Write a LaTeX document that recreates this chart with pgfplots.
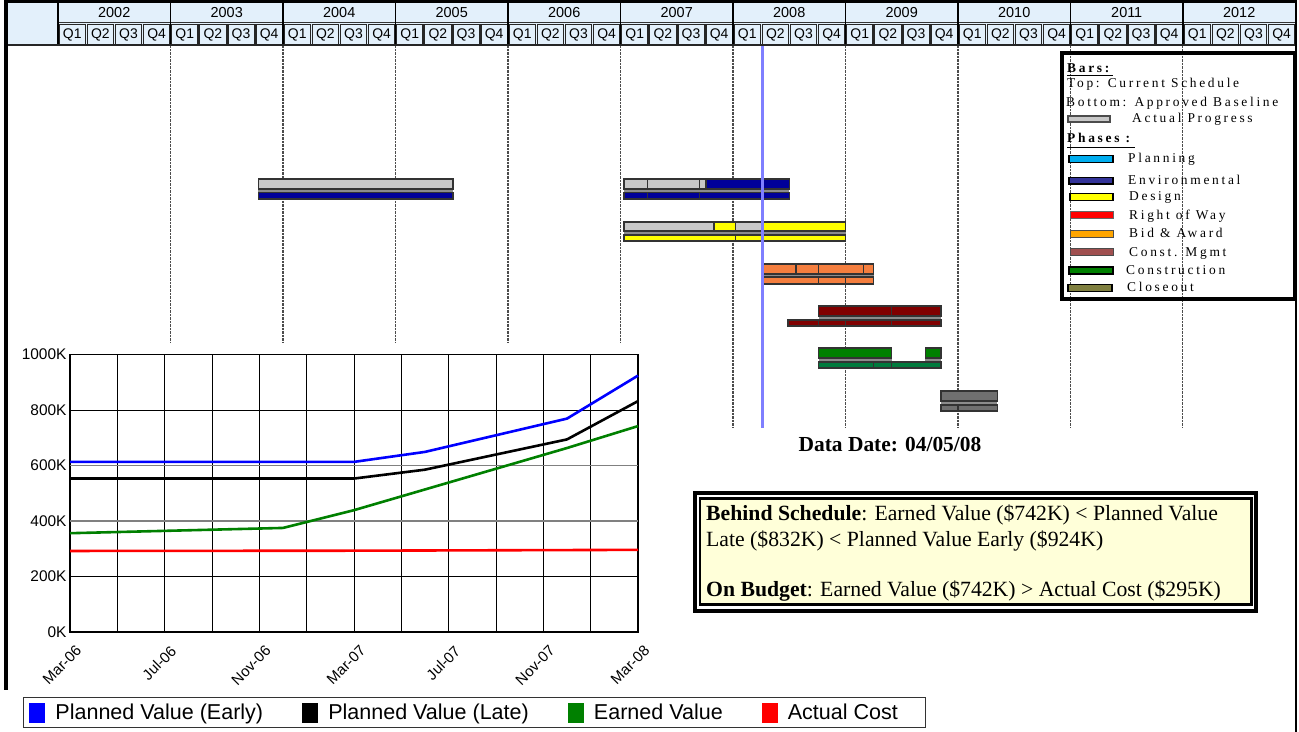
\documentclass[border=0pt]{standalone}
\usepackage{fontspec}
\usepackage{pgfplots}
\pgfplotsset{compat=1.18}
\setmainfont{Liberation Serif}
\newfontfamily\arial{Liberation Sans}
\newfontfamily\spaced[LetterSpace=20]{Liberation Serif}

\definecolor{hdr}{HTML}{E3F0FB}
\definecolor{navy}{HTML}{000099}
\definecolor{prog}{HTML}{C8C8C8}
\definecolor{ylw}{HTML}{FFFF00}
\definecolor{bid}{HTML}{F47E3E}
\definecolor{cm}{HTML}{800000}
\definecolor{cons}{HTML}{008000}
\definecolor{consb}{HTML}{007A3D}
\definecolor{closeb}{HTML}{707070}
\definecolor{boxy}{HTML}{FFFFD9}
\definecolor{lgenv}{HTML}{333399}
\definecolor{lgbid}{HTML}{FFA500}
\definecolor{lgcm}{HTML}{A05050}
\definecolor{lgclose}{HTML}{808040}
\definecolor{datel}{HTML}{7F7FFF}

% bar segment: x1 x2 y1 y2 colour
\newcommand\gb[5]{\addplot[fill=#5,draw=black!80,line width=1.5bp] coordinates {(#1,#3) (#2,#3) (#2,#4) (#1,#4)} -- cycle;}
% shadow strip under a current-schedule bar
\newcommand\gs[4]{\addplot[fill=black!45,draw=none] coordinates {(#1,#3) (#2,#3) (#2,#4) (#1,#4)} -- cycle;}

\begin{document}
\begin{tikzpicture}[x=1bp,y=1bp]
\path[use as bounding box] (0bp,0bp) rectangle (1299bp,732bp);

% ---------------- Gantt ----------------
\begin{axis}[at={(58bp,304bp)}, anchor=south west, scale only axis,
  width=1237.5bp, height=382bp,
  xmin=2002, xmax=2013, ymin=46, ymax=428, y dir=reverse,
  axis line style={draw=none}, xtick={2003,...,2012}, ytick=\empty,
  xticklabels={}, major tick length=0pt, xmajorgrids,
  grid style={black!70, densely dotted, line width=1.2bp}, clip=false]
% Environmental (first)
\gs{2003.78}{2005.51}{188}{192.5}
\gb{2003.78}{2005.51}{179}{189}{prog}
\gb{2003.78}{2005.51}{192.5}{199}{navy}
% Environmental (second)
\gs{2007.03}{2008.50}{188}{192.5}
\gb{2007.03}{2007.24}{179}{189}{prog}
\gb{2007.24}{2007.70}{179}{189}{prog}
\gb{2007.70}{2007.76}{179}{189}{prog}
\gb{2007.76}{2008.50}{179}{189}{navy}
\gb{2007.03}{2007.24}{192.5}{199}{navy}
\gb{2007.24}{2007.70}{192.5}{199}{navy}
\gb{2007.70}{2008.50}{192.5}{199}{navy}
% Design
\gs{2007.03}{2009.00}{230}{235}
\gb{2007.03}{2007.83}{222}{231}{prog}
\gb{2007.83}{2008.02}{222}{231}{ylw}
\gb{2008.02}{2008.26}{222}{231}{prog}
\gb{2008.26}{2009.00}{222}{231}{ylw}
\gb{2008.02}{2009.00}{235}{241}{ylw}
\gb{2007.03}{2008.02}{235}{241}{ylw}
% Bid & Award
\gs{2008.26}{2009.25}{273}{277}
\gb{2008.26}{2008.56}{264}{274}{bid}
\gb{2008.56}{2008.76}{264}{274}{bid}
\gb{2008.76}{2009.16}{264}{274}{bid}
\gb{2009.16}{2009.25}{264}{274}{bid}
\gb{2008.26}{2008.76}{277}{284}{bid}
\gb{2008.76}{2009.00}{277}{284}{bid}
\gb{2009.00}{2009.25}{277}{284}{bid}
% Const. Mgmt
\gs{2008.76}{2009.85}{315}{320}
\gb{2008.76}{2009.41}{306}{316}{cm}
\gb{2009.41}{2009.85}{306}{316}{cm}
\gb{2008.49}{2008.76}{320}{326}{cm}
\gb{2008.76}{2009.00}{320}{326}{cm}
\gb{2009.00}{2009.41}{320}{326}{cm}
\gb{2009.41}{2009.85}{320}{326}{cm}
% Construction
\gs{2008.76}{2009.41}{357}{361}
\gs{2009.71}{2009.85}{357}{361}
\gb{2008.76}{2009.41}{348}{358}{cons}
\gb{2009.71}{2009.85}{348}{358}{cons}
\gb{2008.76}{2009.25}{362}{368}{consb}
\gb{2009.25}{2009.41}{362}{368}{consb}
\gb{2009.41}{2009.85}{362}{368}{consb}
% Closeout
\gs{2009.85}{2010.35}{400}{405}
\gb{2009.85}{2010.35}{391}{401}{closeb}
\gb{2009.85}{2010.00}{405}{411}{closeb}
\gb{2010.00}{2010.35}{405}{411}{closeb}
% data date
\addplot[datel, line width=2.6bp] coordinates {(2008.26,46) (2008.26,428)};
\end{axis}

\begin{scope}[yshift=732bp, yscale=-1]
% ---------------- header ----------------
\fill[hdr] (5,2) rectangle (1296,45);
\foreach \q in {0,...,43} {
  \pgfmathtruncatemacro\qq{mod(\q,4)+1}
  \draw[black!85, line width=1.3bp] ({58+28.125*\q+1.2},24.5) rectangle ({58+28.125*(\q+1)-0.6},44.5);
  \node[font=\arial\fontsize{14}{16}\selectfont, inner sep=0pt] at ({58+28.125*\q+14.3},35) {Q\qq};
}
\draw[black!80, line width=1bp] (58,23) -- (1296,23);
\foreach \i in {0,...,10} {
  \pgfmathtruncatemacro\yr{2002+\i}
  \draw[black, line width=1.4bp] ({58+112.5*\i},2) -- ({58+112.5*\i},45);
  \node[font=\arial\fontsize{14.5}{16}\selectfont, inner sep=0pt] at ({58+112.5*\i+56.25},13) {\yr};
}
\draw[black!85, line width=2bp] (5,45.5) -- (1296,45.5);
% white ground of the inset chart
\fill[white] (8,343) rectangle (655,690);
\end{scope}

% ---------------- inset chart ----------------
\begin{axis}[at={(70bp,100bp)}, anchor=south west, scale only axis,
  width=568bp, height=277.5bp,
  xmin=0, xmax=24, ymin=0, ymax=1000,
  xtick={0,4,...,24}, minor xtick={2,6,...,22},
  xticklabels={Mar-06,Jul-06,Nov-06,Mar-07,Jul-07,Nov-07,Mar-08},
  ytick={0,200,800,1000}, yticklabels={0K,200K,800K,1000K},
  extra y ticks={400,600}, extra y tick labels={400K,600K},
  extra y tick style={major grid style={black!50, line width=1.4bp}},
  grid=both, major grid style={black, line width=0.9bp},
  minor grid style={black, line width=0.9bp},
  major tick length=0pt, minor tick length=0pt,
  axis line style={line width=1.8bp},
  yticklabel style={font=\arial\fontsize{15.5}{17}\selectfont},
  xticklabel style={font=\arial\fontsize{15}{17}\selectfont, xshift=5bp, yshift=-11bp, rotate=45, anchor=north east, inner sep=1pt},
  legend columns=4, legend cell align=left,
  legend style={at={(axis description cs:-0.083,-0.235)}, anchor=north west,
    draw=black!80, line width=1bp, font=\arial\fontsize{21.6}{24}\selectfont,
    inner xsep=6bp, inner ysep=4.5bp,
    /tikz/every odd column/.append style={column sep=8bp},
    /tikz/every even column/.append style={column sep=37bp}},
  legend image code/.code={\fill[#1] (0bp,-8.5bp) rectangle (13.5bp,8.5bp);},
  clip=false]
\addplot[blue, line width=2.6bp] coordinates {(0,613) (12,613) (15,649) (21,769) (24,924)};
\addlegendentry{Planned Value (Early)}
\addplot[black, line width=2.6bp] coordinates {(0,553) (12,553) (15,585) (21,694) (24,832)};
\addlegendentry{Planned Value (Late)}
\addplot[green!50!black, line width=2.6bp] coordinates {(0,356) (9,375) (12,439) (21,663) (24,742)};
\addlegendentry{Earned Value}
\addplot[red, line width=2.6bp] coordinates {(0,292) (12,293) (24,296)};
\addlegendentry{Actual Cost\makebox[20bp]{}}
\end{axis}

\begin{scope}[yshift=732bp, yscale=-1]
% ---------------- right legend ----------------
\draw[line width=4bp] (1061.5,53.5) rectangle (1295,299);
\begin{scope}[every node/.style={anchor=base west, inner sep=0pt, font=\spaced\fontsize{13.5}{15}\selectfont}]
\node at (1067,73) {\bfseries Bars:};
\draw[line width=1.2bp] (1067,75.5) -- (1113,75.5);
\node at (1067,88) {Top: Current Schedule};
\node at (1066,107) {Bottom: Approved Baseline};
\draw[fill=prog, draw=black!70, line width=1.3bp] (1068,116) rectangle (1110,122);
\node at (1132,123) {Actual Progress};
\node at (1067,143) {\bfseries Phases :};
\draw[line width=1.2bp] (1067,147.5) -- (1135,147.5);
\draw[fill=cyan, line width=1.7bp] (1069,155.5) rectangle (1113,162.5);
\node at (1128,163) {Planning};
\draw[fill=lgenv, line width=1.7bp] (1069,177.5) rectangle (1113,184);
\node at (1128,184.5) {Environmental};
\draw[fill=ylw, line width=1.7bp] (1070,193.5) rectangle (1113,200.5);
\node at (1129,201) {Design};
\draw[fill=red, draw=black!60, line width=1bp] (1070,212) rectangle (1113,219);
\node at (1129,219.5) {Right of Way};
\draw[fill=lgbid, draw=black!70, line width=1bp] (1070,230.5) rectangle (1113,237.5);
\node at (1129,238) {Bid \& Award};
\draw[fill=lgcm, draw=black!70, line width=1bp] (1070,249) rectangle (1113,256);
\node at (1129,257) {Const. Mgmt};
\draw[fill=cons, line width=1.7bp] (1069,267) rectangle (1113,274);
\node at (1126,274.5) {Construction};
\draw[fill=lgclose, line width=1.7bp] (1068,284.5) rectangle (1112,291.5);
\node at (1127,292) {Closeout};
\end{scope}

% ---------------- data date & status box ----------------
\node[anchor=base, inner sep=0pt, font=\bfseries\fontsize{21.5}{24}\selectfont] at (890,452) {Data Date: 04/05/08};
\draw[line width=4bp] (695,493) rectangle (1255.5,611);
\draw[fill=boxy, line width=2.5bp] (700,498.5) rectangle (1251.5,604.5);
\begin{scope}[every node/.style={anchor=base west, inner sep=0pt, font=\fontsize{21.8}{25}\selectfont}]
\node at (706,521) {\textbf{Behind Schedule}: Earned Value (\$742K) < Planned Value};
\node at (706,547) {Late (\$832K) < Planned Value Early (\$924K)};
\node at (706,597) {\textbf{On Budget}: Earned Value (\$742K) > Actual Cost (\$295K)};
\end{scope}

% ---------------- outer frame ----------------
\draw[line width=4bp] (6,0) -- (6,690);
\draw[line width=3bp] (5,1.5) -- (1297,1.5);
\draw[line width=2bp] (1296,0) -- (1296,732);
\end{scope}
\end{tikzpicture}
\end{document}
